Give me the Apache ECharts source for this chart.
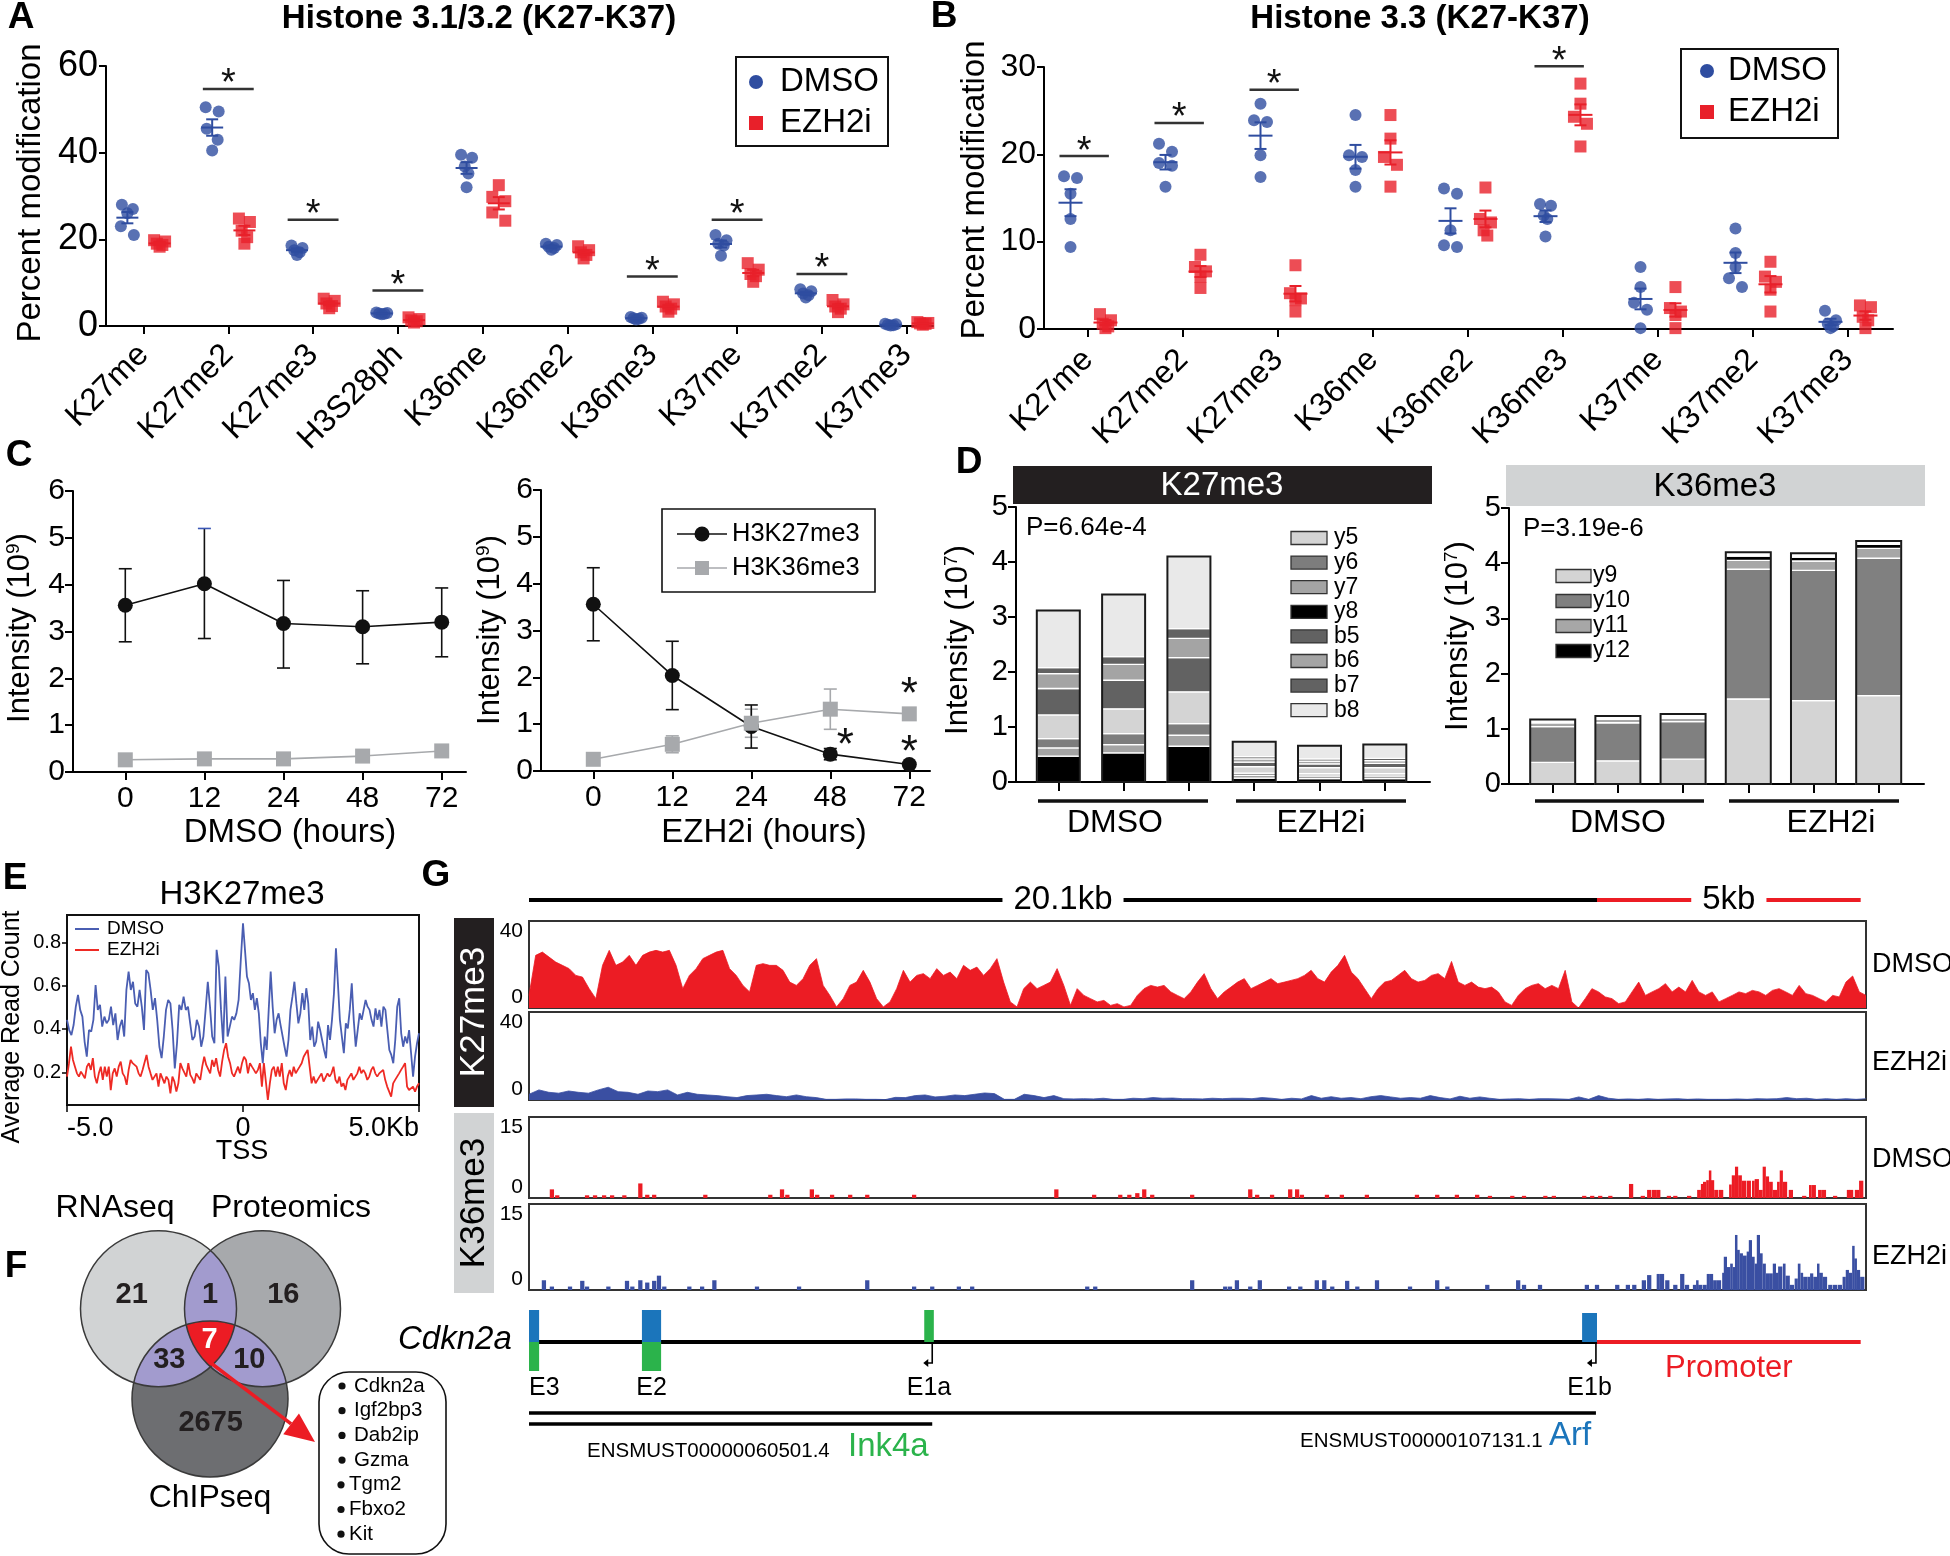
<!DOCTYPE html>
<html><head><meta charset="utf-8">
<script src="https://cdn.jsdelivr.net/npm/echarts@6/dist/echarts.min.js"></script>
<style>html,body{margin:0;padding:0;background:#fff}#c{width:1950px;height:1556px}</style>
</head><body><div id="c"></div>
<script>
// ================= DATA =================
// Panel A: Histone 3.1/3.2
const catsA = ['K27me','K27me2','K27me3','H3S28ph','K36me','K36me2','K36me3','K37me','K37me2','K37me3'];
const aDmso = [[28,27,26,23,21],[50.5,49.5,45.5,43,40.5],[18.6,18,17.5,17,16.4],[3.1,3.0,2.9,2.8,2.7],[39.5,38.8,36.8,35.2,32],
  [19,18.7,18.3,18,17.6],[2.1,1.9,1.8,1.7,1.5],[21,19.8,19,18.6,16.2],[8.5,8,7.5,7.1,6.6],[0.5,0.4,0.3,0.2,0.1]];
const aEzh = [[19.8,19.5,19,18.7,18.3],[24.8,24,22,20.5,19],[6.3,5.8,5.2,4.6,4.1],[2.0,1.6,1.3,1.1,0.8],[32.5,29.8,28.8,26.2,24.3],
  [18.4,17.5,17,16.4,15.6],[5.6,5.0,4.5,4.0,3.3],[14.5,13,12,11.5,10.2],[6,5,4.5,4,3.2],[0.9,0.7,0.6,0.5,0.3]];
const sigA = [[1,54.7],[2,24.5],[3,8.2],[6,11.4],[7,24.5],[8,12.0]];

// Panel B: Histone 3.3
const catsB = ['K27me','K27me2','K27me3','K36me','K36me2','K36me3','K37me','K37me2','K37me3'];
const bDmso = [[17.5,17.3,15.5,12.6,9.4],[21.2,20.3,19,18.7,16.3],[25.8,23.9,23.7,19.9,17.4],[24.5,19.9,19.7,18.2,16.3],
  [16.1,15.5,11.3,9.6,9.4],[14.3,14.1,13,12.6,10.6],[7.1,4.8,3.0,2.2,0.1],[11.5,8.7,7.1,5.8,4.8],[2.1,1.0,0.6,0.3,0.1]];
const bEzh = [[1.7,1.0,0.6,0.3,0.1],[8.5,7.1,6.6,6.0,4.7],[7.3,4.1,3.5,3.3,2.0],[24.5,21.8,19.7,18.8,16.3],
  [16.2,12.6,12.2,11.3,10.7],[28.1,25.8,24.3,23.5,20.9],[4.8,2.4,2.0,1.6,0.1],[7.7,6.0,5.4,4.5,2.0],[2.7,2.5,1.4,1.0,0.1]];
const sigB = [[0,19.8],[1,23.6],[2,27.4],[5,30.1]];

// Panel C: time course (10^9)
const hours = ['0','12','24','48','72'];
const cDmsoK27 = [3.56,4.02,3.17,3.10,3.20];
const cDmsoK27Lo = [0.78,1.17,0.95,0.79,0.74];
const cDmsoK27Hi = [0.78,1.18,0.92,0.77,0.73];
const cDmsoK36 = [0.26,0.28,0.28,0.34,0.45];
const cEzhK27 = [3.56,2.04,0.95,0.36,0.14];
const cEzhK27Err = [0.78,0.73,0.46,0.12,0];
const cEzhK36 = [0.25,0.57,1.02,1.32,1.22];
const cEzhK36Err = [0,0.18,0.30,0.43,0];
const cStars = [[3.19,0.70],[4,1.80],[4,0.55]];

// Panel D: fragment ion intensities (10^7), bars = DMSO x3, EZH2i x3
const k27_y8 = [0.47,0.53,0.65,0.07,0.06,0.06];
const k27_y7 = [0.15,0.15,0.20,0.05,0.05,0.05];
const k27_y6 = [0.17,0.20,0.21,0.04,0.04,0.04];
const k27_y5 = [0.43,0.45,0.58,0.12,0.11,0.11];
const k27_b5 = [0.48,0.52,0.62,0.08,0.07,0.08];
const k27_b6 = [0.27,0.29,0.35,0.06,0.05,0.05];
const k27_b7 = [0.11,0.14,0.18,0.04,0.04,0.04];
const k27_b8 = [1.04,1.13,1.31,0.27,0.24,0.25];
const k36_y9 = [0.39,0.42,0.45,1.54,1.51,1.60];
const k36_y10 = [0.65,0.69,0.68,2.35,2.36,2.49];
const k36_y11 = [0.07,0.06,0.06,0.16,0.17,0.18];
const k36_y12 = [0.02,0.02,0.02,0.08,0.07,0.07];
const k36_other = [0.04,0.04,0.06,0.07,0.07,0.06];
const legK27 = ['y5','y6','y7','y8','b5','b6','b7','b8'];
const legK36 = ['y9','y10','y11','y12'];

// Panel E: average read count around TSS
const eDmso = [0.442,0.395,0.372,0.418,0.503,0.557,0.488,0.457,0.342,0.272,
0.395,0.388,0.442,0.603,0.488,0.511,0.411,0.457,0.426,0.442,
0.503,0.418,0.472,0.349,0.411,0.442,0.365,0.580,0.665,0.580,
0.618,0.518,0.503,0.580,0.503,0.395,0.672,0.657,0.580,0.488,
0.542,0.442,0.318,0.265,0.365,0.488,0.534,0.518,0.395,0.218,
0.334,0.511,0.488,0.549,0.488,0.503,0.426,0.349,0.365,0.442,
0.411,0.318,0.365,0.488,0.618,0.503,0.365,0.334,0.765,0.688,
0.488,0.334,0.642,0.365,0.411,0.457,0.442,0.472,0.534,0.718,
0.888,0.765,0.642,0.611,0.534,0.565,0.488,0.542,0.472,0.334,
0.242,0.365,0.303,0.488,0.665,0.503,0.380,0.442,0.472,0.418,
0.426,0.318,0.272,0.349,0.488,0.549,0.618,0.518,0.426,0.472,
0.565,0.488,0.588,0.518,0.349,0.411,0.318,0.342,0.434,0.395,
0.349,0.303,0.265,0.418,0.349,0.442,0.565,0.772,0.611,0.442,
0.365,0.288,0.426,0.403,0.488,0.611,0.442,0.318,0.395,0.472,
0.442,0.488,0.534,0.503,0.488,0.442,0.411,0.495,0.442,0.488,
0.411,0.503,0.488,0.395,0.303,0.280,0.242,0.349,0.503,0.542,
0.380,0.318,0.365,0.334,0.395,0.288,0.180,0.272,0.334,0.380];
const eEzh = [0.180,0.242,0.318,0.257,0.226,0.195,0.180,0.203,0.188,0.172,
0.226,0.242,0.211,0.265,0.180,0.149,0.195,0.226,0.165,0.226,
0.180,0.226,0.118,0.195,0.218,0.180,0.226,0.249,0.195,0.180,
0.142,0.211,0.257,0.242,0.249,0.226,0.195,0.180,0.211,0.211,
0.280,0.226,0.195,0.165,0.180,0.195,0.134,0.195,0.172,0.149,
0.180,0.165,0.103,0.180,0.157,0.111,0.149,0.242,0.218,0.211,
0.180,0.242,0.188,0.172,0.149,0.195,0.180,0.165,0.226,0.272,
0.234,0.226,0.195,0.257,0.226,0.265,0.211,0.180,0.249,0.303,
0.334,0.272,0.242,0.195,0.180,0.203,0.226,0.195,0.242,0.272,
0.257,0.195,0.242,0.226,0.211,0.195,0.211,0.242,0.134,0.242,
0.234,0.072,0.149,0.211,0.226,0.180,0.226,0.180,0.242,0.149,
0.118,0.180,0.211,0.180,0.226,0.195,0.211,0.226,0.242,0.272,
0.288,0.303,0.226,0.149,0.180,0.149,0.165,0.180,0.195,0.157,
0.165,0.195,0.180,0.195,0.226,0.165,0.149,0.180,0.134,0.149,
0.118,0.165,0.180,0.195,0.165,0.180,0.195,0.226,0.195,0.211,
0.195,0.165,0.180,0.211,0.226,0.195,0.180,0.195,0.195,0.211,
0.165,0.134,0.111,0.088,0.149,0.165,0.180,0.195,0.211,0.226,
0.242,0.134,0.118,0.118,0.134,0.111,0.134,0.149];
const eTicksY = [0.2,0.4,0.6,0.8];

// Panel F: Venn counts
const vennSets = ['RNAseq','Proteomics','ChIPseq'];
const vennCounts = {rnaOnly:21, protOnly:16, chipOnly:2675, rnaProt:1, rnaChip:33, protChip:10, all:7};
const vennGenes = ['Cdkn2a','Igf2bp3','Dab2ip','Gzma','Tgm2','Fbxo2','Kit'];

// Panel G: Cdkn2a locus tracks (x in kb)
const locusKb = 25.1;
const k27Dmso = [5.8,24.2,25.7,23.4,21.1,19.6,18.1,15.0,14.2,8.9,4.3,19.6,26.5,19.6,21.1,24.2,19.6,24.2,25.7,26.5,25.7,26.5,19.6,8.9,15.0,18.1,22.7,24.2,25.7,26.5,18.1,15.0,10.4,7.4,19.6,20.4,19.6,19.6,17.3,11.9,10.4,13.5,19.6,22.7,10.4,5.8,0.5,4.3,10.4,11.9,17.3,11.9,4.3,0.5,2.8,8.9,17.3,11.9,15.0,15.8,13.5,18.1,15.0,16.5,13.5,19.6,17.3,18.8,15.0,18.1,22.7,11.9,2.8,0.5,8.9,11.9,8.9,10.4,11.9,18.1,10.4,1.2,8.9,5.8,4.3,2.8,3.5,1.2,2.0,0.5,1.2,5.8,8.9,10.4,9.6,10.4,7.4,5.8,4.3,7.4,11.9,15.8,8.9,4.3,7.4,9.6,11.9,13.5,8.9,10.4,11.9,13.5,11.2,11.9,12.7,13.5,15.0,17.3,13.5,11.9,16.5,19.6,24.2,16.5,13.5,8.9,4.3,8.9,11.9,12.7,15.0,17.3,13.5,11.9,12.7,15.0,15.8,13.5,21.4,11.9,10.4,11.9,9.6,8.9,9.6,7.4,2.8,1.2,5.8,8.9,10.4,11.2,8.9,10.4,8.9,17.3,2.8,0,4.3,8.9,7.4,5.1,4.3,2.0,2.8,7.4,11.9,5.8,7.4,8.9,11.2,7.4,9.6,7.4,12.7,7.4,5.8,7.4,2.8,4.3,5.8,7.4,6.6,8.1,7.4,5.8,8.1,8.9,7.4,5.8,10.4,6.6,5.8,4.3,2.8,5.8,5.1,11.9,14.7,7.4,5.8];
const k27Ezh = [2.6,4.6,3.5,3.1,4.1,3.5,3.1,4.6,5.8,3.8,3.5,2.6,4.1,3.8,4.6,2.3,3.5,2.6,2.3,2.0,1.5,1.1,2.0,2.3,2.6,2.0,1.5,2.3,1.5,1.1,0.3,0.3,0.5,0.5,0.3,0.3,0.2,1.2,1.1,2.0,2.3,1.4,1.7,2.3,2.0,2.6,3.2,2.9,0.3,0.3,2.6,2.0,1.1,2.0,0.6,0.5,0.6,0.5,0.8,0.3,0.3,0.8,0.6,1.1,0.8,0.9,0.6,0.6,0.5,0.8,0.6,0.8,0.8,0.6,1.1,0.8,0.3,0.8,0.5,2.0,0.8,1.5,0.8,1.1,0.6,1.5,2.0,1.4,0.8,1.1,0.8,2.0,1.1,0.5,1.7,0.8,1.4,0.8,0.3,0.5,0.6,0.3,0.6,0.6,0.5,0.3,1.4,0.3,2.0,0.8,0.3,0.5,0.3,0.6,0.3,0.5,0.6,0.3,0.5,0.3,0.3,0.3,0.5,0.3,0.6,0.5,0.6,1.1,0.6,0.8,0.3,0.6,0.3,0.6,0.3,0.6];
const k36Dmso = [[0.39,1.6],[0.49,0.5],[1.05,0.5],[1.2,0.5],[1.37,0.5],[1.52,0.5],[1.75,0.5],[2.05,2.7],[2.18,0.6],[2.31,0.6],[3.27,0.6],[4.49,0.6],[4.71,1.6],[4.81,0.6],[5.27,1.6],[5.37,0.6],[5.65,0.6],[5.99,0.6],[6.31,0.6],[7.19,0.6],[9.86,1.6],[10.57,0.6],[11.06,0.6],[11.23,0.6],[11.38,0.9],[11.51,1.6],[11.66,0.6],[12.41,0.6],[13.5,1.6],[13.63,0.6],[13.91,0.6],[14.25,1.6],[14.38,1.6],[14.47,0.6],[14.94,0.6],[15.22,0.6],[15.69,0.6],[16.63,0.6],[17.01,0.6],[17.38,0.6],[17.76,0.6],
 [18.0,0.4],[18.42,0.4],[18.64,0.4],[19.04,0.4],[19.2,0.4],[19.77,0.4],[19.92,0.4],[20.07,0.4],[20.26,0.4],[20.65,2.6],[20.87,0.4],[20.99,1.5],[21.08,1.5],[21.16,1.5],[21.36,0.4],[21.48,0.4],[21.74,0.4],[21.93,1.5],[22.0,2.6],[22.04,3.0],[22.1,3.3],[22.15,5.1],[22.19,3.3],[22.25,1.5],[22.34,1.5],[22.53,2.5],[22.58,4.2],[22.64,5.8],[22.7,4.2],[22.77,3.2],[22.86,3.2],[22.96,3.2],[23.01,3.5],[23.09,1.5],[23.16,5.8],[23.22,4.0],[23.28,3.0],[23.35,1.5],[23.43,3.0],[23.48,5.1],[23.54,3.0],[23.65,1.5],[23.9,0.4],[24.03,2.4],[24.08,2.4],[24.2,1.5],[24.27,1.5],[24.48,0.4],[24.74,1.5],[24.78,1.5],[24.89,1.5],[24.97,3.2]];
const k36Ezh = [[0.24,1.7],[0.39,0.6],[0.73,0.6],[0.96,1.6],[1.05,0.6],[1.45,0.6],[1.8,1.6],[1.9,0.6],[2.05,1.7],[2.18,1.3],[2.31,1.6],[2.4,2.5],[2.5,0.6],[2.97,0.6],[3.21,0.6],[3.44,1.7],[4.24,0.6],[5.03,0.6],[6.31,1.7],[7.19,0.6],[7.53,0.6],[8.03,0.6],[8.28,0.6],[10.44,0.6],[10.59,0.6],[12.41,1.7],[13.03,0.6],[13.12,0.6],[13.25,1.7],[13.5,0.6],[13.68,1.7],[14.23,0.6],[14.44,0.6],[14.75,1.7],[14.89,1.7],[15.04,0.6],[15.32,1.6],[15.51,0.6],[15.88,1.7],[16.5,0.6],[17.01,1.7],[17.2,0.6],
 [17.95,0.9],[18.53,1.7],[18.64,0.9],[18.94,0.9],[19.82,0.9],[20.01,0.9],[20.39,0.9],[20.59,0.9],[20.71,0.9],[20.89,1.7],[20.99,2.6],[21.17,2.8],[21.23,2.8],[21.33,1.7],[21.48,0.9],[21.61,2.8],[21.7,0.9],[21.85,0.9],[21.91,1.7],[21.95,0.9],[22.04,0.9],[22.11,2.8],[22.17,2.8],[22.23,1.7],[22.3,1.7],[22.4,3.0],[22.43,5.8],[22.49,4.0],[22.55,4.6],[22.6,4.0],[22.64,9.6],[22.68,7.0],[22.73,6.4],[22.79,6.0],[22.86,6.7],[22.9,8.7],[22.96,5.8],[23.01,4.6],[23.05,9.6],[23.11,6.4],[23.16,4.6],[23.22,2.9],[23.28,2.9],[23.35,4.6],[23.41,3.0],[23.45,4.1],[23.54,4.6],[23.59,2.5],[23.67,0.9],[23.76,2.0],[23.82,4.6],[23.87,3.0],[23.92,2.3],[24.0,2.3],[24.05,2.9],[24.11,2.3],[24.18,4.6],[24.22,3.0],[24.29,2.3],[24.39,0.9],[24.48,0.9],[24.57,0.9],[24.66,2.3],[24.72,3.5],[24.78,3.0],[24.84,7.7],[24.88,5.5],[24.93,3.5],[24.99,2.3]];
const geneSpan = [0, 20.05];
const promoterSpan = [20.05, 25.0];
const exons = [['E3',0,0.19,1,1],['E2',2.12,2.48,1,1],['E1a',7.42,7.6,0,1],['E1b',19.77,20.05,1,0]]; // name,start,end,Arf,Ink4a
const tssKb = [7.57, 20.03];
const arfSpan = [0, 20.03];
const ink4aSpan = [0, 7.57];
const scaleBars = [['20.1kb',0,20.05],['5kb',20.05,25.0]];

// ================= STYLE =================
const FONT = '"Liberation Sans", Arial, Helvetica, sans-serif';
const BLUE = '#2f4da0', RED = '#e8202a';
const TRED = '#ec1c24', TBLUE = '#3a4fa2';
const GREEN = '#2bb34b', EBLUE = '#1b75bb';

function merge(a, b) {
  const out = Object.assign({}, a);
  for (const k in b) {
    const bv = b[k];
    if (bv && typeof bv === 'object' && !Array.isArray(bv) && out[k] && typeof out[k] === 'object' && !Array.isArray(out[k])) out[k] = merge(out[k], bv);
    else out[k] = bv;
  }
  return out;
}
const AXBASE = {axisLine:{onZero:false, lineStyle:{color:'#000', width:2}}, axisTick:{lineStyle:{color:'#000', width:2}},
  splitLine:{show:false}, axisLabel:{color:'#000', fontFamily:FONT}};
const AX = e => merge(AXBASE, e);

const grids = [], xAxes = [], yAxes = [], series = [], G = [];
function addGrid(g, x, y) {
  grids.push(g); const i = grids.length - 1;
  x.gridIndex = i; y.gridIndex = i; xAxes.push(x); yAxes.push(y); return i;
}
const mean = a => a.reduce((s, v) => s + v, 0) / a.length;
const sem = a => { const m = mean(a); return Math.sqrt(a.reduce((s, v) => s + (v - m) ** 2, 0) / (a.length - 1)) / Math.sqrt(a.length); };

// spread overlapping replicate dots sideways (pixel offsets), like a column scatter plot
function spread(vals, pxPerUnit) {
  const idx = vals.map((v, i) => i).sort((a, b) => vals[b] - vals[a]);
  const off = vals.map(() => 0);
  let cl = [idx[0]];
  const flush = () => {
    const n = cl.length; if (n < 2) return;
    const step = n === 2 ? 13 : Math.min(6, 11 / (n - 1));
    const slots = []; for (let k = 0; k < n; k++) slots.push(k % 2 === 0 ? k / 2 : n - 1 - (k - 1) / 2);
    cl.forEach((j, k) => { off[j] = (slots[k] - (n - 1) / 2) * step; });
  };
  for (let t = 1; t < idx.length; t++) {
    if ((vals[cl[cl.length - 1]] - vals[idx[t]]) * pxPerUnit < 11) cl.push(idx[t]); else { flush(); cl = [idx[t]]; }
  }
  flush();
  return off;
}
function dotData(groups, shift, pxPerUnit, pxPerCat) {
  return groups.flatMap((pts, i) => { const o = spread(pts, pxPerUnit); return pts.map((v, j) => [i + shift + o[j] / pxPerCat, v]); });
}

function errSeries(gi, data, color, o) {
  return {type:'custom', xAxisIndex:gi, yAxisIndex:gi, z:4, silent:true, data, renderItem:(p, api) => {
    const x = api.value(0), m = api.value(1), lo = api.value(2), hi = api.value(3);
    const c = api.coord([x, m]), cl = api.coord([x, m - lo]), chi = api.coord([x, m + hi]);
    const st = {stroke:color, lineWidth:o.lw || 2};
    const k = [];
    if (lo > 0 || hi > 0) k.push({type:'line', shape:{x1:c[0], y1:cl[1], x2:c[0], y2:chi[1]}, style:st});
    if (hi > 0) k.push({type:'line', shape:{x1:c[0]-o.cap/2, y1:chi[1], x2:c[0]+o.cap/2, y2:chi[1]}, style:{stroke:(o.hiCapColor ? o.hiCapColor(p.dataIndex) : color), lineWidth:o.lw || 2}});
    if (lo > 0) k.push({type:'line', shape:{x1:c[0]-o.cap/2, y1:cl[1], x2:c[0]+o.cap/2, y2:cl[1]}, style:st});
    if (o.meanW) k.push({type:'line', shape:{x1:c[0]-o.meanW/2, y1:c[1], x2:c[0]+o.meanW/2, y2:c[1]}, style:st});
    return {type:'group', children:k};
  }};
}
function sigSeries(gi, data, left, right) {
  return {type:'custom', xAxisIndex:gi, yAxisIndex:gi, z:5, silent:true, data, renderItem:(p, api) => {
    const x = api.value(0), y = api.value(1);
    const a = api.coord([x - left, y]), b = api.coord([x + right, y]);
    return {type:'group', children:[
      {type:'line', shape:{x1:a[0], y1:a[1], x2:b[0], y2:b[1]}, style:{stroke:'#333', lineWidth:2.5}},
      {type:'text', x:(a[0]+b[0])/2, y:a[1]-4, style:{text:'*', fontSize:38, fontFamily:FONT, fill:'#111', align:'center', verticalAlign:'middle'}}]};
  }};
}
function txt(x, y, text, size, o) {
  o = o || {};
  const st = {text, fontSize:size, fontFamily:FONT, fontWeight:o.bold ? 'bold' : 'normal', fontStyle:o.italic ? 'italic' : 'normal',
    fill:o.color || '#000', align:o.align || 'center', verticalAlign:o.va || 'middle', textAlign:o.align || 'center', textVerticalAlign:o.va || 'middle'};
  if (o.rich) st.rich = o.rich;
  return {type:'text', x, y, rotation:o.rot || 0, z:60, silent:true, style:st};
}
function ln(x1, y1, x2, y2, color, w) { return {type:'line', z:55, silent:true, shape:{x1, y1, x2, y2}, style:{stroke:color, lineWidth:w}}; }
function rc(x, y, w, h, fill, stroke, lw, r) { return {type:'rect', z:50, silent:true, shape:{x, y, width:w, height:h, r:r || 0}, style:{fill, stroke:stroke || null, lineWidth:lw || 0}}; }
function ci(cx, cy, r, fill, stroke, lw, z) { return {type:'circle', z:z || 50, silent:true, shape:{cx, cy, r}, style:{fill, stroke:stroke || null, lineWidth:lw || 0}}; }
function richIntensity(x, y, sup) {
  const e = txt(x, y, '{a|Intensity (10}{s|' + sup + '}{a|)}', 31, {rot:Math.PI / 2});
  e.style.rich = {a:{fontSize:31, fontFamily:FONT, fill:'#000'}, s:{fontSize:19, fontFamily:FONT, fill:'#000', verticalAlign:'top'}};
  return e;
}

// ================= PANEL A =================
const idxA = catsA.map((_, i) => i);
const gA = addGrid({left:106, top:66, width:827, height:260},
  AX({type:'value', min:-0.442, max:9.31, axisTick:{customValues:idxA, length:8}, axisLabel:{customValues:idxA, formatter:v => catsA[Math.round(v)], rotate:45, fontSize:32, margin:24}}),
  AX({type:'value', min:0, max:60, interval:20, axisTick:{length:7}, axisLabel:{fontSize:36, margin:8}}));
const OA = 0.19;
series.push({type:'scatter', xAxisIndex:gA, yAxisIndex:gA, symbol:'circle', symbolSize:12, itemStyle:{color:BLUE}, z:3,
  data:dotData(aDmso, -OA, 260 / 60, 84.8)});
series.push({type:'scatter', xAxisIndex:gA, yAxisIndex:gA, symbol:'rect', symbolSize:12, itemStyle:{color:RED}, z:3,
  data:dotData(aEzh, OA, 260 / 60, 84.8)});
series.push(errSeries(gA, aDmso.map((p, i) => [i - OA, mean(p), sem(p), sem(p)]), BLUE, {cap:12, meanW:22, lw:2}));
series.push(errSeries(gA, aEzh.map((p, i) => [i + OA, mean(p), sem(p), sem(p)]), RED, {cap:12, meanW:22, lw:2}));
series.push(sigSeries(gA, sigA, 0.3, 0.3));

// ================= PANEL B =================
const idxB = catsB.map((_, i) => i);
const gB = addGrid({left:1044, top:67, width:849, height:262},
  AX({type:'value', min:-0.463, max:8.474, axisTick:{customValues:idxB, length:8}, axisLabel:{customValues:idxB, formatter:v => catsB[Math.round(v)], rotate:45, fontSize:32, margin:26}}),
  AX({type:'value', min:0, max:30, interval:10, axisTick:{length:7}, axisLabel:{fontSize:32, margin:8}}));
const OB = 0.184;
series.push({type:'scatter', xAxisIndex:gB, yAxisIndex:gB, symbol:'circle', symbolSize:12, itemStyle:{color:BLUE}, z:3,
  data:dotData(bDmso, -OB, 262 / 30, 95)});
series.push({type:'scatter', xAxisIndex:gB, yAxisIndex:gB, symbol:'rect', symbolSize:12, itemStyle:{color:RED}, z:3,
  data:dotData(bEzh, OB, 262 / 30, 95)});
series.push(errSeries(gB, bDmso.map((p, i) => [i - OB, mean(p), sem(p), sem(p)]), BLUE, {cap:12, meanW:24, lw:2}));
series.push(errSeries(gB, bEzh.map((p, i) => [i + OB, mean(p), sem(p), sem(p)]), RED, {cap:12, meanW:24, lw:2}));
series.push(sigSeries(gB, sigB, 0.3, 0.22));

// ================= PANEL C =================
const idxC = hours.map((_, i) => i);
function cGrid(left, top, width, min, max) {
  return addGrid({left, top, width, height:281},
    AX({type:'value', min, max, axisTick:{customValues:idxC, length:8}, axisLabel:{customValues:idxC, formatter:v => hours[Math.round(v)], fontSize:30, margin:12}}),
    AX({type:'value', min:0, max:6, interval:1, axisTick:{length:8}, axisLabel:{fontSize:30, margin:8}}));
}
const gC1 = cGrid(73, 491, 393, -0.661, 4.307);
const gC2 = cGrid(541, 490, 389, -0.662, 4.262);
function cLine(gi, vals, color, sym, size) {
  return {type:'line', xAxisIndex:gi, yAxisIndex:gi, data:vals.map((v, i) => [i, v]), symbol:sym, symbolSize:size, z:6,
    lineStyle:{color, width:1.6}, itemStyle:{color}};
}
series.push(errSeries(gC1, cDmsoK27.map((v, i) => [i, v, cDmsoK27Lo[i], cDmsoK27Hi[i]]), '#111', {cap:13, lw:1.6, hiCapColor:i => i === 1 ? '#3b57b5' : '#111'}));
series.push(cLine(gC1, cDmsoK36, '#a7a9ac', 'rect', 15));
series.push(cLine(gC1, cDmsoK27, '#111', 'circle', 15));
series.push(errSeries(gC2, cEzhK36.map((v, i) => [i, v, cEzhK36Err[i], cEzhK36Err[i]]), '#a7a9ac', {cap:13, lw:1.6}));
series.push(errSeries(gC2, cEzhK27.map((v, i) => [i, v, cEzhK27Err[i], cEzhK27Err[i]]), '#111', {cap:13, lw:1.6}));
series.push(cLine(gC2, cEzhK27, '#111', 'circle', 15));
series.push(cLine(gC2, cEzhK36, '#a7a9ac', 'rect', 15));
series.push({type:'custom', xAxisIndex:gC2, yAxisIndex:gC2, z:7, silent:true, data:cStars, renderItem:(p, api) => {
  const c = api.coord([api.value(0), api.value(1)]);
  return {type:'text', x:c[0], y:c[1] + 9, style:{text:'*', fontSize:44, fontFamily:FONT, fill:'#111', align:'center', verticalAlign:'middle'}};
}});

// ================= PANEL D =================
const idxD = [0,1,2,3,4,5];
function dGrid(left, top, width, height, min, max) {
  return addGrid({left, top, width, height},
    AX({type:'value', min, max, axisTick:{customValues:idxD, length:9}, axisLabel:{show:false}}),
    AX({type:'value', min:0, max:5, interval:1, axisTick:{length:8}, axisLabel:{fontSize:29, margin:8}}));
}
const gD1 = dGrid(1016, 507, 414, 275, -0.648, 5.692);
const gD2 = dGrid(1509, 508, 415, 276, -0.670, 5.695);
function stackSeries(gi, segs, barW) {
  return {type:'custom', xAxisIndex:gi, yAxisIndex:gi, z:4, silent:true, data:idxD.map(i => [i, 0]), renderItem:(p, api) => {
    const i = p.dataIndex; let acc = 0; const k = [];
    segs.forEach(s => {
      const v = s.vals[i]; const a = api.coord([i, acc + v]), b = api.coord([i, acc]);
      k.push({type:'rect', shape:{x:a[0] - barW/2, y:a[1], width:barW, height:b[1] - a[1]}, style:{fill:s.color, stroke:'#ffffff', lineWidth:1.3}});
      acc += v;
    });
    const t = api.coord([i, acc]), z0 = api.coord([i, 0]);
    k.push({type:'rect', shape:{x:t[0] - barW/2, y:t[1], width:barW, height:z0[1] - t[1]}, style:{fill:null, stroke:'#1a1a1a', lineWidth:2}});
    return {type:'group', children:k};
  }};
}
const colK27 = {y5:'#d4d4d4', y6:'#7d7d7d', y7:'#a4a4a4', y8:'#000000', b5:'#626262', b6:'#a4a4a4', b7:'#626262', b8:'#e9e9e9'};
series.push(stackSeries(gD1, [
  {vals:k27_y8, color:colK27.y8}, {vals:k27_y7, color:colK27.y7}, {vals:k27_y6, color:colK27.y6}, {vals:k27_y5, color:colK27.y5},
  {vals:k27_b5, color:colK27.b5}, {vals:k27_b6, color:colK27.b6}, {vals:k27_b7, color:colK27.b7}, {vals:k27_b8, color:colK27.b8}], 43));
const colK36 = {y9:'#d4d4d4', y10:'#808080', y11:'#a7a7a7', y12:'#000000'};
series.push(stackSeries(gD2, [
  {vals:k36_y9, color:colK36.y9}, {vals:k36_y10, color:colK36.y10}, {vals:k36_y11, color:colK36.y11}, {vals:k36_y12, color:colK36.y12},
  {vals:k36_other, color:'#ffffff'}], 45));

// ================= PANEL E =================
const gE = addGrid({left:67, top:915, width:352, height:190, show:true, borderColor:'#111', borderWidth:2},
  AX({type:'value', min:-5, max:5, axisLine:{show:false}, axisTick:{customValues:[-5,0,5], length:7, lineStyle:{width:1.5}},
    axisLabel:{customValues:[-5,0,5], formatter:v => v < 0 ? '-5.0' : (v > 0 ? '5.0Kb' : '0'), fontSize:27, margin:10, alignMinLabel:'left', alignMaxLabel:'right'}}),
  AX({type:'value', min:0.049, max:0.926, axisLine:{show:false}, axisTick:{customValues:eTicksY, length:5, lineStyle:{width:1.5}},
    axisLabel:{customValues:eTicksY, formatter:v => v.toFixed(1), fontSize:20, margin:6}}));
series.push({type:'line', xAxisIndex:gE, yAxisIndex:gE, symbol:'none', z:4, lineStyle:{color:'#ee2a24', width:1.8},
  data:eEzh.map((v, i) => [-5 + i * 10 / (eEzh.length - 1), v])});
series.push({type:'line', xAxisIndex:gE, yAxisIndex:gE, symbol:'none', z:5, lineStyle:{color:'#4a5eb2', width:1.8},
  data:eDmso.map((v, i) => [i <= 80 ? -5 + i * 5 / 80 : (i - 80) * 5 / (eDmso.length - 81), v])});

// ================= PANEL G =================
function trackGrid(top, height, ymax) {
  return addGrid({left:529, top, width:1337, height, show:true, borderColor:'#333', borderWidth:2},
    {type:'value', min:0, max:locusKb, show:false, splitLine:{show:false}},
    {type:'value', min:0, max:ymax, splitLine:{show:false}, axisLine:{show:false}, axisTick:{show:false},
      axisLabel:{customValues:[0, ymax], fontSize:21, color:'#000', fontFamily:FONT, margin:6, verticalAlignMinLabel:'bottom', verticalAlignMaxLabel:'top'}});
}
const gG1 = trackGrid(921, 87, 40);
const gG2 = trackGrid(1012, 88, 40);
const gG3 = trackGrid(1117, 81, 15);
const gG4 = trackGrid(1204, 86, 15);
function areaTrack(gi, vals, color) {
  return {type:'line', xAxisIndex:gi, yAxisIndex:gi, symbol:'none', z:3, clip:true, lineStyle:{color, width:0.8}, areaStyle:{color, opacity:1},
    data:vals.map((v, i) => [i * locusKb / (vals.length - 1), v])};
}
series.push(areaTrack(gG1, k27Dmso, TRED));
series.push(areaTrack(gG2, k27Ezh, TBLUE));
function binSeries(gi, bins, color) {
  return {type:'custom', xAxisIndex:gi, yAxisIndex:gi, z:3, silent:true, clip:true, data:bins, renderItem:(p, api) => {
    const i = p.dataIndex, x = api.value(0), v = api.value(1);
    const nx = i + 1 < bins.length ? bins[i + 1][0] : x + 0.08;
    const w = Math.min(nx - x, 0.08);
    const a = api.coord([x, v]), b = api.coord([x + w, 0]);
    return {type:'rect', shape:{x:a[0], y:a[1], width:Math.max(b[0] - a[0], 2.5), height:b[1] - a[1]}, style:{fill:color}};
  }};
}
series.push(binSeries(gG3, k36Dmso, TRED));
series.push(binSeries(gG4, k36Ezh, TBLUE));

// scale bar
const gSc = addGrid({left:529, top:885, width:1337, height:30},
  {type:'value', min:0, max:locusKb, show:false}, {type:'value', min:0, max:30, show:false, inverse:true});
series.push({type:'custom', xAxisIndex:gSc, yAxisIndex:gSc, z:5, silent:true, data:scaleBars.map((s, i) => [i]), renderItem:(p, api) => {
  const s = scaleBars[p.dataIndex]; const col = p.dataIndex === 0 ? '#000' : TRED;
  const a = api.coord([s[1], 15]), b = api.coord([s[2], 15]);
  return {type:'group', children:[
    {type:'line', shape:{x1:a[0], y1:a[1], x2:b[0], y2:b[1]}, style:{stroke:col, lineWidth:4}},
    {type:'text', x:(a[0] + b[0]) / 2, y:a[1], z2:5, style:{text:s[0], fontSize:33, fontFamily:FONT, fill:'#000', align:'center', verticalAlign:'middle', backgroundColor:'#fff', padding:[0, 11]}}]};
}});

// gene model
const gGene = addGrid({left:529, top:1300, width:1337, height:170},
  {type:'value', min:0, max:locusKb, show:false}, {type:'value', min:0, max:170, show:false, inverse:true});
series.push({type:'custom', xAxisIndex:gGene, yAxisIndex:gGene, z:5, silent:true, data:[[0, 0]], renderItem:(p, api) => {
  const X = kb => api.coord([kb, 0])[0];
  const Y = off => api.coord([0, off])[1];
  const k = [];
  k.push({type:'line', shape:{x1:X(geneSpan[0]), y1:Y(42), x2:X(geneSpan[1]), y2:Y(42)}, style:{stroke:'#000', lineWidth:4}});
  k.push({type:'line', shape:{x1:X(promoterSpan[0]), y1:Y(42), x2:X(promoterSpan[1]), y2:Y(42)}, style:{stroke:TRED, lineWidth:4}});
  k.push({type:'text', x:(X(promoterSpan[0]) + X(promoterSpan[1])) / 2, y:Y(68), style:{text:'Promoter', fontSize:31, fontFamily:FONT, fill:TRED, align:'center', verticalAlign:'middle'}});
  exons.forEach(e => {
    const x0 = X(e[1]), x1 = Math.max(X(e[2]), x0 + 9);
    if (e[3] && e[4]) {
      k.push({type:'rect', shape:{x:x0, y:Y(10), width:x1 - x0, height:Y(42) - Y(10)}, style:{fill:EBLUE}});
      k.push({type:'rect', shape:{x:x0, y:Y(42), width:x1 - x0, height:Y(71) - Y(42)}, style:{fill:GREEN}});
    } else {
      k.push({type:'rect', shape:{x:x0, y:Y(e[3] ? 13 : 10), width:x1 - x0, height:Y(42) - Y(e[3] ? 13 : 10)}, style:{fill:e[3] ? EBLUE : GREEN}});
    }
    k.push({type:'text', x:e[1] === 0 ? x0 : (x0 + x1) / 2, y:Y(88), style:{text:e[0], fontSize:25, fontFamily:FONT, fill:'#000', align:e[1] === 0 ? 'left' : 'center', verticalAlign:'middle'}});
  });
  tssKb.forEach(t => {
    const x = X(t);
    k.push({type:'polyline', shape:{points:[[x, Y(44)], [x, Y(63)], [x - 6, Y(63)]]}, style:{stroke:'#000', lineWidth:1.6, fill:null}});
    k.push({type:'polygon', shape:{points:[[x - 9, Y(63)], [x - 4, Y(59)], [x - 4, Y(67)]]}, style:{fill:'#000'}});
  });
  k.push({type:'line', shape:{x1:X(arfSpan[0]), y1:Y(113), x2:X(arfSpan[1]), y2:Y(113)}, style:{stroke:'#000', lineWidth:3.5}});
  k.push({type:'line', shape:{x1:X(ink4aSpan[0]), y1:Y(124), x2:X(ink4aSpan[1]), y2:Y(124)}, style:{stroke:'#000', lineWidth:3.5}});
  return {type:'group', children:k};
}});

// ================= GRAPHICS (titles, legends, annotations) =================
[['A',21,18],['B',944,17],['C',19,456],['D',969,463],['E',15,879],['F',16,1267],['G',436,876]].forEach(l => G.push(txt(l[1], l[2], l[0], 37, {bold:true})));
// A
G.push(txt(479, 19, 'Histone 3.1/3.2 (K27-K37)', 33, {bold:true}));
G.push(txt(31, 193, 'Percent modification', 33, {rot:Math.PI / 2}));
G.push(rc(736, 57, 152, 89, '#fff', '#111', 2));
G.push(ci(756, 82, 7, BLUE));
G.push(rc(749, 116, 14, 14, RED));
G.push(txt(780, 82, 'DMSO', 33, {align:'left'}));
G.push(txt(780, 123, 'EZH2i', 33, {align:'left'}));
// B
G.push(txt(1420, 19, 'Histone 3.3 (K27-K37)', 33, {bold:true}));
G.push(txt(975, 190, 'Percent modification', 33, {rot:Math.PI / 2}));
G.push(rc(1681, 49, 157, 89, '#fff', '#111', 2));
G.push(ci(1707, 71, 7, BLUE));
G.push(rc(1700, 105, 14, 14, RED));
G.push(txt(1728, 71, 'DMSO', 33, {align:'left'}));
G.push(txt(1728, 112, 'EZH2i', 33, {align:'left'}));
// C
G.push(richIntensity(20, 628, '9'));
G.push(richIntensity(490, 630, '9'));
G.push(txt(290, 833, 'DMSO (hours)', 33));
G.push(txt(764, 833, 'EZH2i (hours)', 33));
G.push(rc(662, 509, 213, 83, '#fff', '#111', 1.6));
G.push(ln(677, 534, 727, 534, '#111', 1.6));
G.push(ci(702, 534, 7.5, '#111'));
G.push(ln(677, 568, 727, 568, '#a7a9ac', 1.6));
G.push(rc(695, 561, 14, 14, '#a7a9ac'));
G.push(txt(732, 534, 'H3K27me3', 25.5, {align:'left'}));
G.push(txt(732, 568, 'H3K36me3', 25.5, {align:'left'}));
// D
G.push(rc(1013, 466, 419, 38, '#231f20'));
G.push(txt(1222, 486, 'K27me3', 33, {color:'#fff'}));
G.push(rc(1506, 465, 419, 41, '#d1d3d4'));
G.push(txt(1715, 487, 'K36me3', 33));
G.push(richIntensity(958, 640, '7'));
G.push(richIntensity(1458, 636, '7'));
G.push(txt(1026, 528, 'P=6.64e-4', 26, {align:'left'}));
G.push(txt(1523, 529, 'P=3.19e-6', 26, {align:'left'}));
legK27.forEach((n, i) => {
  const y = 538 + i * 24.6;
  G.push(rc(1291, y - 6.5, 36, 13, colK27[n], '#333', 1.3));
  G.push(txt(1334, y, n, 23, {align:'left'}));
});
legK36.forEach((n, i) => {
  const y = 576 + i * 25;
  G.push(rc(1556, y - 6.5, 35, 13, colK36[n], '#333', 1.3));
  G.push(txt(1593, y, n, 23, {align:'left'}));
});
[[1038,1208,1115,'DMSO'],[1236,1406,1321,'EZH2i'],[1535,1704,1618,'DMSO'],[1729,1899,1831,'EZH2i']].forEach(g => {
  G.push(ln(g[0], 801, g[1], 801, '#111', 3.5));
  G.push(txt(g[2], 823, g[3], 32));
});
// E
G.push(txt(242, 895, 'H3K27me3', 33));
G.push(txt(242, 1152, 'TSS', 27));
G.push(txt(12, 1027, 'Average Read Count', 25, {rot:Math.PI / 2}));
G.push(ln(75, 929, 99, 929, '#4a5eb2', 2));
G.push(ln(75, 950, 99, 950, '#ee2a24', 2));
G.push(txt(107, 929, 'DMSO', 19, {align:'left'}));
G.push(txt(107, 950, 'EZH2i', 19, {align:'left'}));
// F: Venn
(function () {
  const R = 78, cA = [158.5, 1308.7], cB = [262.5, 1308.7], cC = [210, 1399];
  function inter(c1, c2) {
    const dx = c2[0] - c1[0], dy = c2[1] - c1[1], d = Math.hypot(dx, dy), h = Math.sqrt(R * R - d * d / 4);
    const mx = c1[0] + dx / 2, my = c1[1] + dy / 2;
    return [[mx - h * dy / d, my + h * dx / d], [mx + h * dy / d, my - h * dx / d]];
  }
  function arc(c, p1, p2, n) {
    const a1 = Math.atan2(p1[1] - c[1], p1[0] - c[0]), a2 = Math.atan2(p2[1] - c[1], p2[0] - c[0]);
    let d = a2 - a1; while (d > Math.PI) d -= 2 * Math.PI; while (d < -Math.PI) d += 2 * Math.PI;
    const pts = []; for (let i = 0; i <= n; i++) { const a = a1 + d * i / n; pts.push([c[0] + R * Math.cos(a), c[1] + R * Math.sin(a)]); }
    return pts;
  }
  const closest = (pts, c) => Math.hypot(pts[0][0]-c[0], pts[0][1]-c[1]) < Math.hypot(pts[1][0]-c[0], pts[1][1]-c[1]) ? pts[0] : pts[1];
  G.push(ci(cA[0], cA[1], R, '#d1d3d4', null, 0, 20));
  G.push(ci(cB[0], cB[1], R, '#a7a9ac', null, 0, 21));
  G.push(ci(cC[0], cC[1], R, '#6d6e71', null, 0, 22));
  const lens = (c1, c2) => { const p = inter(c1, c2); return arc(c1, p[0], p[1], 30).concat(arc(c2, p[1], p[0], 30)); };
  [[cA, cB], [cA, cC], [cB, cC]].forEach(pr => G.push({type:'polygon', z:23, silent:true, shape:{points:lens(pr[0], pr[1])}, style:{fill:'#a29bce'}}));
  const vAB = closest(inter(cA, cB), cC), vBC = closest(inter(cB, cC), cA), vCA = closest(inter(cC, cA), cB);
  const tri = arc(cB, vAB, vBC, 20).concat(arc(cC, vBC, vCA, 20)).concat(arc(cA, vCA, vAB, 20));
  G.push({type:'polygon', z:24, silent:true, shape:{points:tri}, style:{fill:'#ec1c24'}});
  [cA, cB, cC].forEach(c => G.push(ci(c[0], c[1], R, null, '#3a3a3a', 1.5, 25)));
  G.push(txt(131.7, 1295, String(vennCounts.rnaOnly), 29, {bold:true, color:'#231f20'}));
  G.push(txt(210, 1295, String(vennCounts.rnaProt), 29, {bold:true, color:'#231f20'}));
  G.push(txt(283.3, 1295, String(vennCounts.protOnly), 29, {bold:true, color:'#231f20'}));
  G.push(txt(169.3, 1360, String(vennCounts.rnaChip), 29, {bold:true, color:'#231f20'}));
  G.push(txt(249.3, 1360, String(vennCounts.protChip), 29, {bold:true, color:'#231f20'}));
  G.push(txt(209.5, 1340, String(vennCounts.all), 29, {bold:true, color:'#fff'}));
  G.push(txt(210.7, 1423, String(vennCounts.chipOnly), 29, {bold:true, color:'#231f20'}));
  G.push(txt(115, 1208, vennSets[0], 32));
  G.push(txt(291, 1208, vennSets[1], 32));
  G.push(txt(210, 1498, vennSets[2], 32));
  const s = [209.5, 1362], t = [315, 1442];
  const ang = Math.atan2(t[1] - s[1], t[0] - s[0]), L = 30, W = 13;
  const bx = t[0] - L * Math.cos(ang), by = t[1] - L * Math.sin(ang);
  G.push(ln(s[0], s[1], bx, by, '#ec1c24', 3.5));
  G.push({type:'polygon', z:56, silent:true, shape:{points:[t, [bx - W * Math.sin(ang), by + W * Math.cos(ang)], [bx + W * Math.sin(ang), by - W * Math.cos(ang)]]}, style:{fill:'#ec1c24'}});
  G.push(rc(319, 1372, 127, 182, '#fff', '#111', 1.6, 30));
  vennGenes.forEach((g, i) => {
    const y = 1386 + i * 24.7;
    G.push(ci(i < 4 ? 342 : 341, y, 3.6, '#111', null, 0, 60));
    G.push(txt(i < 4 ? 354 : 349, y, g, 20.5, {align:'left'}));
  });
})();
// G labels
G.push(rc(454, 918, 40, 189, '#231f20'));
G.push(txt(474, 1012, 'K27me3', 35, {rot:Math.PI / 2, color:'#fff'}));
G.push(rc(454, 1113, 40, 180, '#d1d3d4'));
G.push(txt(474, 1203, 'K36me3', 35, {rot:Math.PI / 2}));
[[965,'DMSO'],[1063,'EZH2i'],[1160,'DMSO'],[1257,'EZH2i']].forEach(r => G.push(txt(1872, r[0], r[1], 27, {align:'left'})));
G.push(txt(398, 1340, 'Cdkn2a', 33, {align:'left', italic:true}));
G.push(txt(587, 1451, 'ENSMUST00000060501.4', 20.5, {align:'left'}));
G.push(txt(848, 1447, 'Ink4a', 33, {align:'left', color:GREEN}));
G.push(txt(1300, 1441, 'ENSMUST00000107131.1', 20.5, {align:'left'}));
G.push(txt(1549, 1436, 'Arf', 33, {align:'left', color:EBLUE}));

// ================= RENDER =================
const chart = echarts.init(document.getElementById('c'), null, {renderer:'canvas', width:1950, height:1556});
chart.setOption({
  animation:false,
  backgroundColor:'#ffffff',
  textStyle:{fontFamily:FONT},
  grid:grids, xAxis:xAxes, yAxis:yAxes, series,
  graphic:{elements:G}
});
</script></body></html>
